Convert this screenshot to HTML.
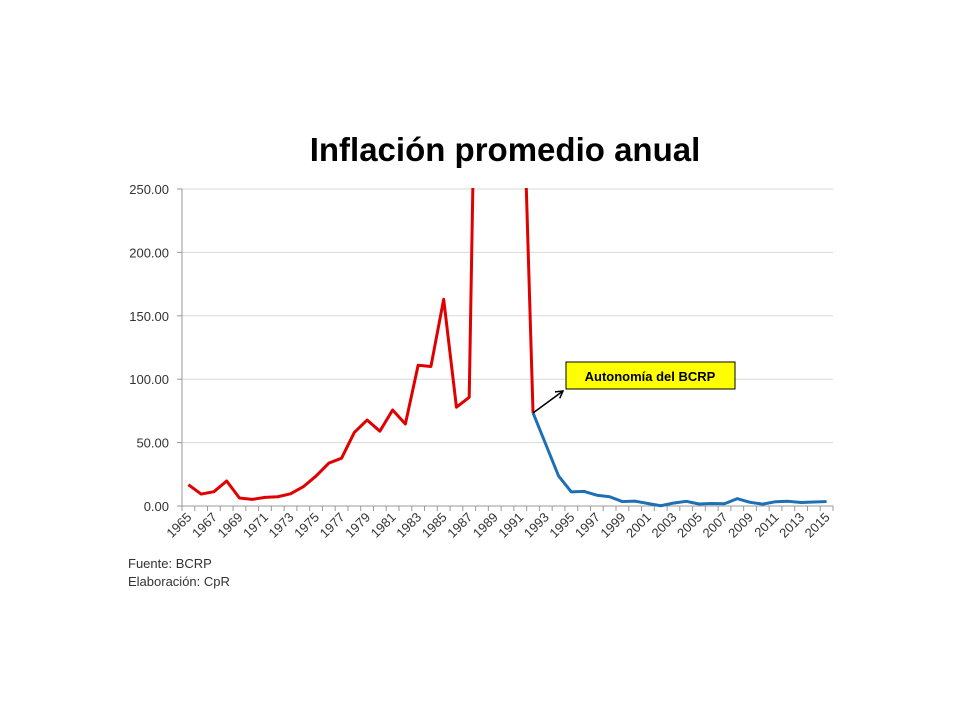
<!DOCTYPE html>
<html><head><meta charset="utf-8"><style>
body{margin:0;background:#fff;}
svg{display:block;font-family:"Liberation Sans",sans-serif;}
</style></head><body>
<svg id="chart" width="960" height="720">
<text x="505" y="161" text-anchor="middle" font-size="33" font-weight="bold" fill="#000">Inflación promedio anual</text>
<g id="grid"></g><g id="axes"></g>
<defs><clipPath id="pc"><rect x="182" y="188" width="652" height="320"/></clipPath>
<marker id="ah" markerWidth="10" markerHeight="10" refX="8" refY="5" orient="auto" markerUnits="userSpaceOnUse"><path d="M1,1 L8,5 L1,9" fill="none" stroke="#000" stroke-width="1.5"/></marker></defs>
<g id="series" clip-path="url(#pc)"></g>
<line x1="533" y1="413" x2="563" y2="391" stroke="#000" stroke-width="1.5" marker-end="url(#ah)"/>
<rect x="566" y="362" width="169" height="27" fill="#ffff00" stroke="#000" stroke-width="1"/>
<text x="650" y="381" text-anchor="middle" font-size="13" font-weight="bold">Autonomía del BCRP</text>
<text x="128" y="568" font-size="13" fill="#333">Fuente: BCRP</text>
<text x="128" y="586" font-size="13" fill="#333">Elaboración: CpR</text>
</svg>
<script>
const years=[];for(let y=1965;y<=2015;y++)years.push(y);
const redValues=[16.8,9.4,11.3,19.7,6.3,5.2,6.8,7.3,9.6,15.2,23.6,33.8,37.7,58,67.8,59,75.7,64.7,111,110,163,77.9,85.7,667,3399,7482,409.5,73.5];
const blueValues=[73.5,48.6,23.7,11.1,11.5,8.5,7.3,3.5,3.8,2.0,0.2,2.3,3.7,1.6,2.0,1.8,5.8,2.9,1.5,3.4,3.7,2.8,3.2,3.5];
const yTicks=[0,50,100,150,200,250];
const yTickLabels=["0.00","50.00","100.00","150.00","200.00","250.00"];
const NS="http://www.w3.org/2000/svg";
const L=182,R=833,T=189,B=506,bw=(R-L)/years.length;
const xs=i=>L+bw*(i+0.5);
const ys=v=>B-(v/250)*(B-T);
function mk(t,a,p){const e=document.createElementNS(NS,t);for(const k in a)e.setAttribute(k,a[k]);p.appendChild(e);return e;}
const grid=document.getElementById('grid'),axes=document.getElementById('axes'),series=document.getElementById('series');
yTicks.forEach((v,i)=>{
 if(v>0){const g=mk('line',{x1:L,x2:R,y1:ys(v),y2:ys(v),stroke:'#d9d9d9','stroke-width':1},grid);
 
 }
 const t=mk('text',{x:L-13,y:ys(v)+5,'text-anchor':'end','font-size':13,fill:'#333'},axes);t.textContent=yTickLabels[i];
 
 
 mk('line',{x1:L-5,x2:L,y1:ys(v),y2:ys(v),stroke:'#999'},axes);
});
const ya=mk('line',{x1:L,x2:L,y1:T,y2:B,stroke:'#999'},axes);


const xa=mk('line',{x1:L,x2:R,y1:B,y2:B,stroke:'#999'},axes);


for(let i=0;i<=years.length;i++)mk('line',{x1:L+bw*i,x2:L+bw*i,y1:B,y2:B+5,stroke:'#999'},axes);
years.forEach((y,i)=>{if(i%2)return;
 const x=xs(i)+4,yy=B+12;
 const t=mk('text',{x:x,y:yy,'text-anchor':'end','font-size':13,fill:'#333',transform:`rotate(-45 ${x} ${yy})`},axes);t.textContent=y;
 
 
});
const rp=redValues.map((v,i)=>xs(i)+','+ys(v)).join(' ');
const r=mk('polyline',{points:rp,fill:'none',stroke:'#e00000','stroke-width':3,'stroke-linejoin':'round'},series);


const off=redValues.length-1;
const bp=blueValues.map((v,i)=>xs(i+off)+','+ys(v)).join(' ');
const b=mk('polyline',{points:bp,fill:'none',stroke:'#1f6fb5','stroke-width':3,'stroke-linejoin':'round'},series);


</script>
</body></html>
